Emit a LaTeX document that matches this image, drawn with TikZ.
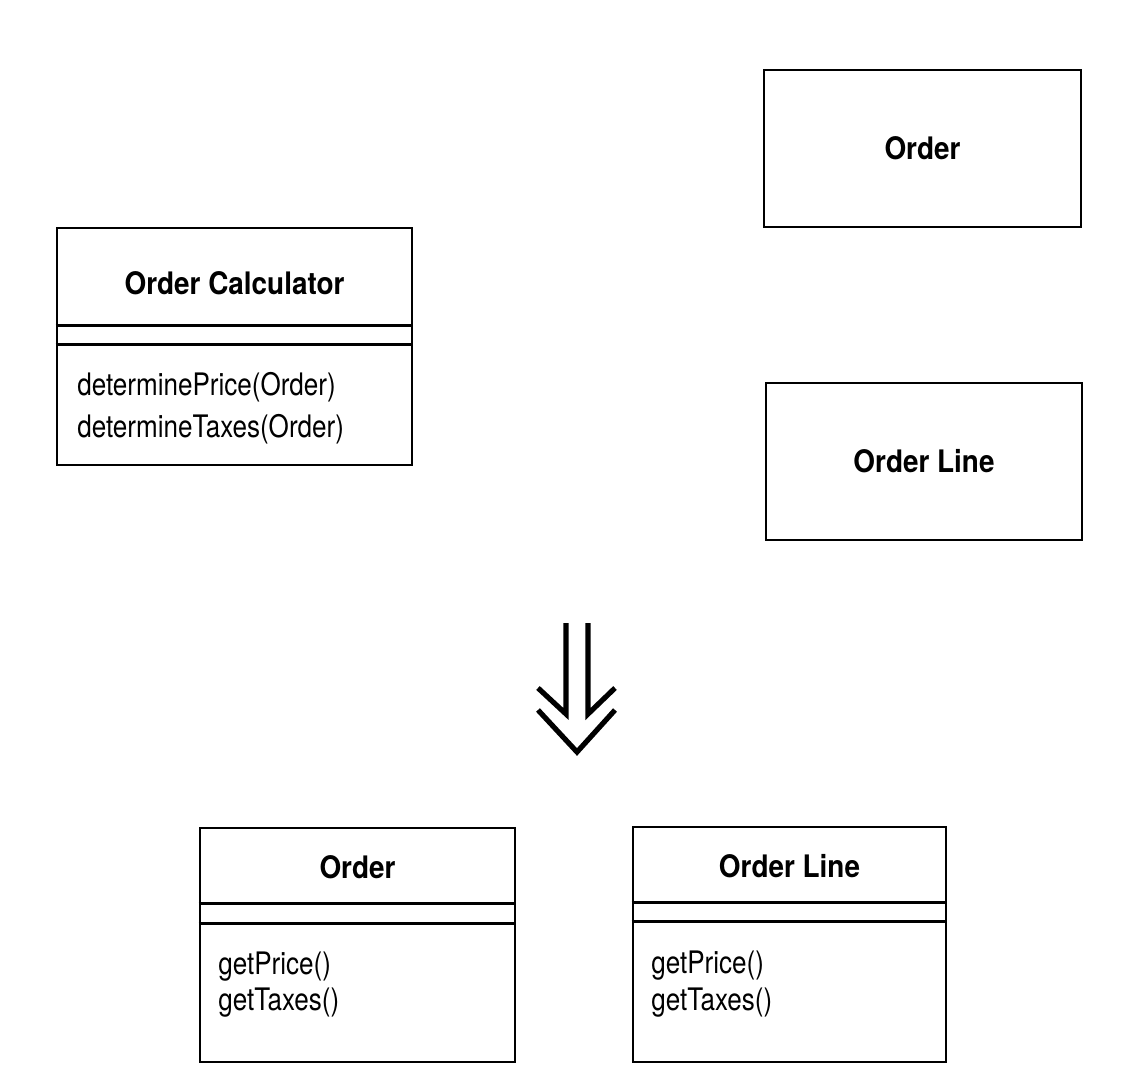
\documentclass[tikz,border=0pt]{standalone}
\usepackage{fontspec}
\newfontfamily\methodfont{TeX Gyre Heros}[FakeStretch=0.84]
\newfontfamily\namefont{TeX Gyre Heros}[FakeStretch=0.9]
\usetikzlibrary{calc}
\tikzset{
  classbox/.style={draw,line width=1.3pt,inner sep=0pt},
  classname/.style={font=\namefont\fontsize{15.5}{18}\selectfont\bfseries},
  method/.style={font=\methodfont\fontsize{15.5}{18}\selectfont,anchor=base west,inner sep=0pt},
  bigarrow/.style={line width=2.6pt,line join=miter}
}

\begin{document}
\begin{tikzpicture}[x=0.5pt,y=-0.5pt]
\useasboundingbox (0,0) rectangle (1136,1092);
% before
\node[classbox,minimum width=177.5pt,minimum height=118.5pt] (calc) at (234.5,346.5) {};
\draw[line width=1.3pt] ($(calc.north west)+(0,99)$) -- ($(calc.north east)+(0,99)$)
  ($(calc.north west)+(0,118)$) -- ($(calc.north east)+(0,118)$);
\node[classname,anchor=base] (calcname) at (234.5,294) {Order Calculator};
\node[method] (calcprice) at (77,395) {determinePrice(Order)};
\node[method] (calctaxes) at (77,437) {determineTaxes(Order)};
\node[classbox,classname,minimum width=158.5pt,minimum height=78.5pt] (order) at (922.5,148.5) {Order};
\node[classbox,classname,minimum width=158pt,minimum height=78.5pt] (line) at (924,461.5) {Order Line};
% arrow
\draw[bigarrow] (538,688) -- (566,714) -- (566,623);
\draw[bigarrow] (615,688) -- (588,714) -- (588,623);
\draw[bigarrow] (538,710) -- (577,752) -- (615,710);
% after
\node[classbox,minimum width=157.5pt,minimum height=117pt] (neworder) at (357.5,945) {};
\draw[line width=1.3pt] ($(neworder.north west)+(0,77)$) -- ($(neworder.north east)+(0,77)$)
  ($(neworder.north west)+(0,97)$) -- ($(neworder.north east)+(0,97)$);
\node[classname,anchor=base] (newordername) at (357.5,878) {Order};
\node[method] (orderprice) at (218,974) {getPrice()};
\node[method] (ordertaxes) at (218,1010) {getTaxes()};
\node[classbox,minimum width=156.5pt,minimum height=117.5pt] (newline) at (789.5,944.5) {};
\draw[line width=1.3pt] ($(newline.north west)+(0,77)$) -- ($(newline.north east)+(0,77)$)
  ($(newline.north west)+(0,96)$) -- ($(newline.north east)+(0,96)$);
\node[classname,anchor=base] (newlinename) at (789.5,877) {Order Line};
\node[method] (lineprice) at (651,973) {getPrice()};
\node[method] (linetaxes) at (651,1010) {getTaxes()};
\end{tikzpicture}
\end{document}
